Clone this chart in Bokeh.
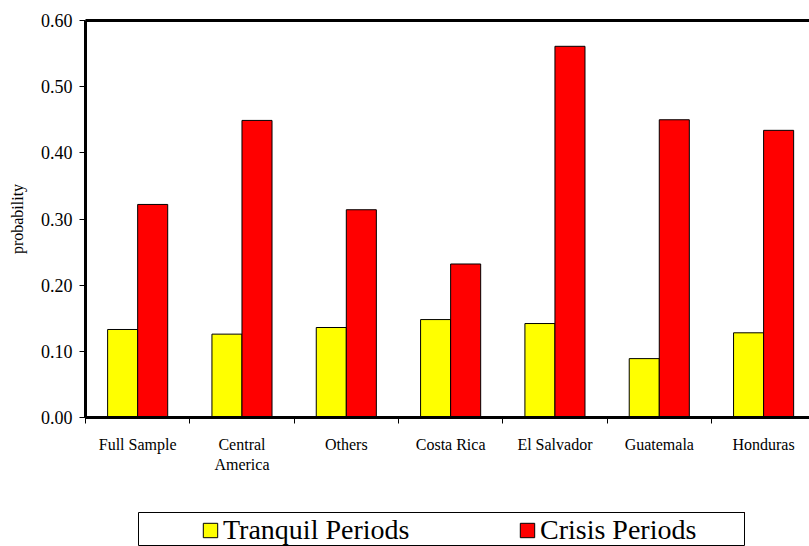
from bokeh.plotting import figure
from bokeh.layouts import column
from bokeh.models import (ColumnDataSource, Range1d, FixedTicker, LinearAxis,
                          NumeralTickFormatter, Legend, LegendItem)
from bokeh.transform import dodge
from bokeh.embed import file_html
from bokeh.resources import INLINE

categories = ["Full Sample", "Central\nAmerica", "Others", "Costa Rica",
              "El Salvador", "Guatemala", "Honduras"]
tranquil = [0.133, 0.126, 0.136, 0.148, 0.142, 0.089, 0.128]
crisis = [0.322, 0.449, 0.314, 0.232, 0.561, 0.450, 0.434]
y_ticks = [0.0, 0.1, 0.2, 0.3, 0.4, 0.5, 0.6]
series_names = ["Tranquil Periods", "Crisis Periods"]
series_colors = ["#FFFF00", "#FF0000"]
series_fields = ["tranquil", "crisis"]

FONT = "Liberation Serif"
centers = [i + 0.5 for i in range(len(categories))]
bounds = list(range(len(categories) + 1))

src = ColumnDataSource(dict(x=centers, tranquil=tranquil, crisis=crisis))

p = figure(width=809, height=500, output_backend="svg", toolbar_location=None,
           x_range=Range1d(0, 6.94), y_range=Range1d(0, 0.6),
           min_border_left=85, min_border_right=0, min_border_top=20,
           min_border_bottom=83, x_axis_type=None, y_axis_type=None)
p.frame_align = False
p.outline_line_color = None
p.background_fill_color = "white"
p.border_fill_color = "white"

bw = 0.288
for field, color, off in zip(series_fields, series_colors, [-bw / 2, bw / 2]):
    p.vbar(x=dodge("x", off, range=p.x_range), top=field, width=bw,
           bottom=0, source=src, fill_color=color, line_color="black", line_width=1)

# y axis
yaxis = LinearAxis(ticker=FixedTicker(ticks=y_ticks),
                   formatter=NumeralTickFormatter(format="0.00"),
                   axis_label="probability")
yaxis.axis_line_width = 3
yaxis.major_tick_out = 6
yaxis.major_tick_in = 0
yaxis.minor_tick_line_color = None
yaxis.major_label_standoff = 7
yaxis.major_label_text_font = FONT
yaxis.major_label_text_font_size = "18px"
yaxis.major_label_text_color = "black"
yaxis.axis_label_text_font = FONT
yaxis.axis_label_text_font_size = "16px"
yaxis.axis_label_text_font_style = "normal"
yaxis.axis_label_text_color = "black"
yaxis.axis_label_standoff = 12
p.add_layout(yaxis, "left")

# x axis: labels at category centres, ticks at category boundaries
xaxis = LinearAxis(ticker=FixedTicker(ticks=centers, minor_ticks=bounds))
xaxis.major_label_overrides = {c: lab for c, lab in zip(centers, categories)}
xaxis.axis_line_width = 3
xaxis.major_tick_line_color = None
xaxis.major_tick_out = 6
xaxis.major_tick_in = 0
xaxis.minor_tick_out = 6
xaxis.minor_tick_in = 0
xaxis.minor_tick_line_color = "black"
xaxis.major_label_standoff = 12
xaxis.major_label_text_font = FONT
xaxis.major_label_text_font_size = "16px"
xaxis.major_label_text_color = "black"
p.add_layout(xaxis, "below")

# top thick border
top = LinearAxis(ticker=FixedTicker(ticks=[]))
top.axis_line_width = 3
top.major_tick_line_color = None
top.minor_tick_line_color = None
top.major_label_text_font_size = "0px"
top.major_tick_out = 0
top.minor_tick_out = 0
top.major_label_standoff = 0
p.add_layout(top, "above")

p.ygrid.ticker = FixedTicker(ticks=y_ticks)
p.ygrid.grid_line_color = "black"
p.ygrid.grid_line_width = 1
p.xgrid.grid_line_color = None

# legend strip (its frame outline is the legend box); its ranges keep the
# series' bars out of view so that only the legend swatches show
pl = figure(width=809, height=46, output_backend="svg", toolbar_location=None,
            x_range=Range1d(-2, -1), y_range=Range1d(-2, -1),
            min_border_left=138, min_border_right=65, min_border_top=12,
            min_border_bottom=0, x_axis_type=None, y_axis_type=None,
            styles={"overflow": "hidden"})
pl.frame_align = False
pl.xgrid.grid_line_color = None
pl.ygrid.grid_line_color = None
pl.outline_line_color = "black"
pl.outline_line_width = 1
pl.background_fill_color = "white"
pl.border_fill_color = "white"
lr = [pl.vbar(x="x", top=f, width=bw, bottom=0, source=src,
              fill_color=c, line_color="black", line_width=1)
      for f, c in zip(series_fields, series_colors)]

legend = Legend(items=[LegendItem(label=n, renderers=[r]) for n, r in zip(series_names, lr)],
                orientation="horizontal", location=(63, 0),
                border_line_color=None, background_fill_alpha=0,
                padding=0, margin=0, spacing=102, glyph_width=18, glyph_height=18,
                label_standoff=4, label_width=193, label_height=14,
                label_text_font=FONT, label_text_font_size="28px",
                label_text_color="black")
pl.add_layout(legend, "center")

layout = column(p, pl, spacing=0, width=809, height=546,
                styles={"overflow": "hidden"})
html = file_html(layout, INLINE)
html = html.replace("</head>", "<style>html, body { overflow: hidden; }</style></head>", 1)
open("out.html", "w").write(html)
